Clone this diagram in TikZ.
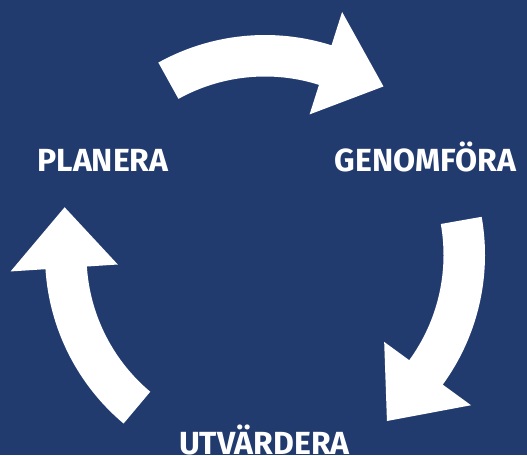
\documentclass[tikz,border=0pt]{standalone}
\usepackage{fontspec}
\setsansfont{Fira Sans}
\usepackage{tikz}
\usetikzlibrary{calc}
\usepackage{xcolor}
\definecolor{cyclebg}{RGB}{34,59,111}
\tikzstyle{bgfill}=[fill=cyclebg]
\tikzstyle{steplabel}=[text=white, font=\sffamily\bfseries\fontsize{32}{36}\selectfont, anchor=base, inner sep=0pt]
\newcommand{\cycleArrow}[4]{
	\fill[white] ($#1+(#2:178.5)$) -- ($#1+(#2:220)$) arc[start angle=#2, end angle=#3, radius=220]
		-- ($#1+(#3:255)$) -- ($#1+(#4:206)$) -- ($#1+(#3:147.5)$) -- ($#1+(#3:178.5)$)
		arc[start angle=#3, end angle=#2, radius=178.5] -- cycle;
}

\begin{document}
\begin{tikzpicture}[x=1pt,y=1pt]
	\fill[bgfill] (0,0) rectangle (527,455);
	\useasboundingbox (0,0) rectangle (527,455);
	\coordinate (C) at (265,200);
	\cycleArrow{(C)}{119}{72.4}{54.9}
	\cycleArrow{(C)}{10}{-36.1}{-53.7}
	\cycleArrow{(C)}{230}{183.7}{166.6}
	\node[steplabel] (planera) at (103,283) {PLANERA};
	\node[steplabel] (genomfora) at (425.5,283) {GENOMFÖRA};
	\node[steplabel] (utvardera) at (264.5,1) {UTVÄRDERA};
\end{tikzpicture}
\end{document}
